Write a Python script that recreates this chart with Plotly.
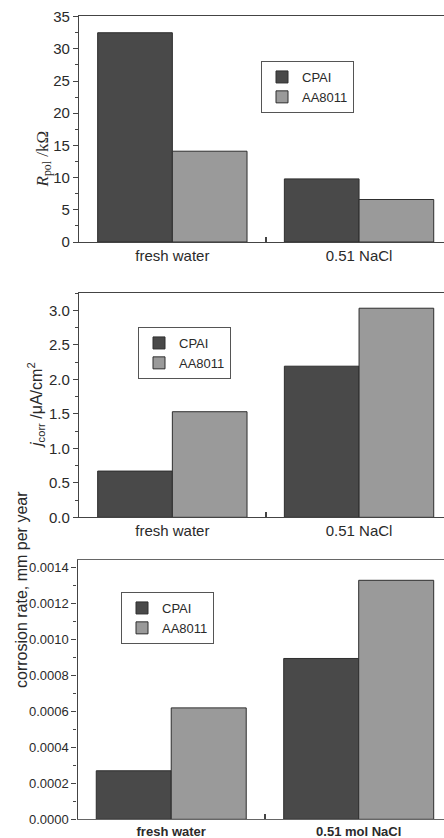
import plotly.graph_objects as go

categories = [0, 1]
cat_labels_top = ["fresh water", "0.51 NaCl"]
cat_labels_bottom = ["fresh water", "0.51 mol NaCl"]
series_names = ["CPAI", "AA8011"]

rpol_cpai = [32.5, 9.8]
rpol_aa = [14.1, 6.6]
jcorr_cpai = [0.67, 2.19]
jcorr_aa = [1.53, 3.03]
rate_cpai = [0.00027, 0.000895]
rate_aa = [0.00062, 0.00133]

C_DARK = "#494949"
C_LIGHT = "#9a9a9a"
LINE = "#2e2e2e"
AX = "#444444"
H = 838.0
W = 444.0

fig = go.Figure()

panels = [
    (rpol_cpai, rpol_aa, "x", "y", "legend"),
    (jcorr_cpai, jcorr_aa, "x2", "y2", "legend2"),
    (rate_cpai, rate_aa, "x3", "y3", "legend3"),
]
for cp, aa, xa, ya, lg in panels:
    fig.add_trace(go.Bar(x=categories, y=cp, name=series_names[0], xaxis=xa, yaxis=ya,
                         marker=dict(color=C_DARK, line=dict(color=LINE, width=1)),
                         legend=lg))
    fig.add_trace(go.Bar(x=categories, y=aa, name=series_names[1], xaxis=xa, yaxis=ya,
                         marker=dict(color=C_LIGHT, line=dict(color=LINE, width=1)),
                         legend=lg))

def ydom(top, bottom):
    return [1 - bottom / H, 1 - top / H]

tickfont = dict(family="Liberation Sans, Arial", size=15, color="#2a2a2a")

def xaxis(dom, labels, font):
    return dict(domain=dom, range=[-0.5, 1.455], tickmode="array", tickvals=categories,
                ticktext=labels, ticks="", showline=True, linecolor=AX, linewidth=1.2,
                mirror=True, showgrid=False, zeroline=False, tickfont=font, automargin=False,
                minor=dict(tickmode="array", tickvals=[0.5], ticks="inside", ticklen=5,
                           tickcolor=AX, tickwidth=1.5))

def yaxis(dom, rng, dtick, fmt, anchor, font):
    return dict(domain=dom, range=rng, dtick=dtick, tick0=0, tickformat=fmt, ticks="outside",
                ticklen=5, tickcolor=AX, showline=True, linecolor=AX, linewidth=1.2,
                showgrid=False, zeroline=False, anchor=anchor, tickfont=font, automargin=False,
                minor=dict(dtick=dtick / 2, ticks="outside", ticklen=3, tickcolor=AX))

xfont = dict(family="Liberation Sans, Arial", size=15, color="#2a2a2a")

legfont = dict(family="Liberation Sans, Arial", size=13, color="#2a2a2a")

def legend(x, y):
    return dict(x=x / W, y=1 - y / H, xanchor="left", yanchor="top",
                bordercolor="#555555", borderwidth=1, bgcolor="white",
                font=legfont, tracegroupgap=0, itemwidth=30)

fig.update_layout(
    width=444, height=838, margin=dict(l=0, r=0, t=0, b=0, autoexpand=False),
    paper_bgcolor="white", plot_bgcolor="white",
    barmode="group", bargap=0.2, bargroupgap=0,
    showlegend=True,
    xaxis=xaxis([79 / W, 1], cat_labels_top, xfont),
    yaxis=yaxis(ydom(16, 242), [0, 35.1], 5, "d", "x", tickfont),
    xaxis2=dict(xaxis([79 / W, 1], cat_labels_top, xfont), anchor="y2"),
    yaxis2=yaxis(ydom(292.7, 517.3), [0, 3.255], 0.5, ".1f", "x2", tickfont),
    xaxis3=dict(xaxis([77.5 / W, 1], cat_labels_bottom,
                      dict(family="Liberation Sans, Arial", size=13, color="#2a2a2a", weight="bold")),
                anchor="y3", linecolor="#666666"),
    yaxis3=yaxis(ydom(560, 819.3), [0, 0.001443], 0.0002, ".4f", "x3",
                 dict(family="Liberation Sans, Arial", size=13, color="#2a2a2a")),
    legend=legend(261, 61),
    legend2=legend(138, 327),
    legend3=legend(121, 592),
)

fig.add_annotation(xref="paper", yref="paper", x=30 / W, y=1 - 129 / H,
                   text="<i>R</i><sub>pol</sub> /kΩ", textangle=-90, showarrow=False,
                   font=dict(family="Liberation Serif, Times New Roman", size=17, color="#2a2a2a"))
fig.add_annotation(xref="paper", yref="paper", x=23 / W, y=1 - 405 / H,
                   text="<i>j</i><sub>corr</sub> /μA/cm<sup>2</sup>", textangle=-90, showarrow=False,
                   font=dict(family="Liberation Sans, Arial", size=16, color="#2a2a2a"))
fig.add_annotation(xref="paper", yref="paper", x=11 / W, y=1 - 690 / H,
                   text="corrosion rate, mm per year", textangle=-90, showarrow=False,
                   font=dict(family="Liberation Sans, Arial", size=16, color="#2a2a2a"))

fig.write_html("out.html", config={"displayModeBar": False},
               post_script="document.body.style.margin='0';document.body.style.overflow='hidden';")
